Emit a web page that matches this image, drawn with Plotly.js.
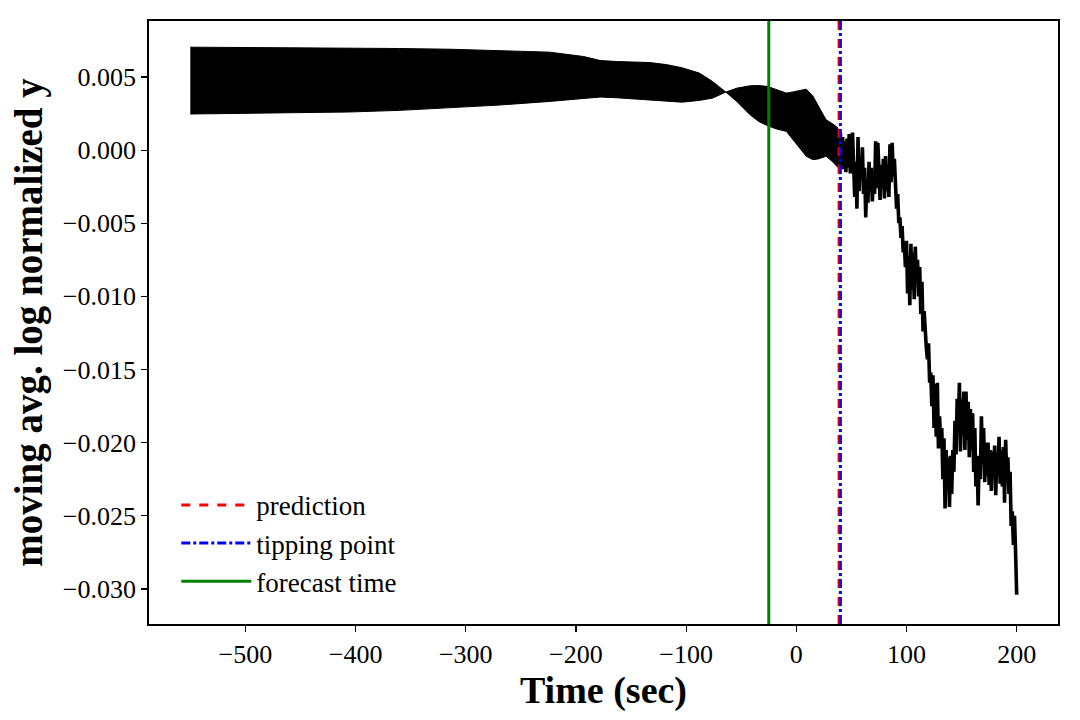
<!DOCTYPE html>
<html>
<head>
<meta charset="utf-8">
<script src="https://cdn.plot.ly/plotly-3.0.1.min.js"></script>
<style>
  html, body { margin: 0; padding: 0; background: #fff; }
  #grafico { width: 1080px; height: 720px; }
</style>
</head>
<body>
<div id="grafico"></div>
<script>
// fast-oscillating part, drawn as an envelope band (upper / lower)
const bandTime = [-550, -480, -405, -360, -314, -270, -224, -193, -178, -163, -133, -118, -104, -88, -76,
    -64, -54, -42, -34, -26, -18, -9, -3, 3, 9, 15, 20, 27, 33, 38];
const bandUpper = [0.00704, 0.00702, 0.00698, 0.00695, 0.00690, 0.00682, 0.00670, 0.00640, 0.00613, 0.00606,
    0.00599, 0.00585, 0.00564, 0.00527, 0.00469, 0.00397, 0.00424, 0.00440, 0.00442, 0.00435,
    0.00413, 0.00390, 0.00398, 0.00408, 0.00417, 0.00370, 0.00300, 0.00208, 0.00180, 0.00150];
const bandLower = [0.00247, 0.00253, 0.00261, 0.00272, 0.00288, 0.00308, 0.00333, 0.00356, 0.00363, 0.00358,
    0.00344, 0.00333, 0.00328, 0.00340, 0.00356, 0.00397, 0.00333, 0.00242, 0.00195, 0.00167,
    0.00145, 0.00128, 0.00072, 0.00017, -0.00042, -0.00065, -0.00060, -0.00042, -0.00080, -0.00120];

// noisy part after the tipping point, one value per second starting at t = 38
const noiseStart = 38;
const noiseStep = 1;
const noiseValue = [
    0.0014, -0.0010, 0.0012, -0.0012, 0.0009, -0.0013, 0.0006, -0.0015, 0.0008, -0.0012,
    0.0011, -0.0016, 0.0004, 0.0012, -0.0010, -0.0032, -0.0008, -0.0040, 0.0009, -0.0028,
    -0.0005, -0.0020, 0.0002, -0.0030, -0.0012, -0.0046, -0.0020, -0.0036, -0.0008, -0.0028,
    -0.0012, -0.0035, -0.0015, -0.0030, 0.0006, -0.0026, 0.0005, -0.0014, -0.0034, -0.0010,
    -0.0026, -0.0006, -0.0033, -0.0004, -0.0028, -0.0010, -0.0032, 0.0004, -0.0022, 0.0005,
    -0.0018, -0.0006, -0.0025, -0.0040, -0.0030, -0.0050, -0.0046, -0.0060, -0.0052, -0.0070,
    -0.0063, -0.0080, -0.0062, -0.0098, -0.0072, -0.0106, -0.0064, -0.0095, -0.0070, -0.0102,
    -0.0066, -0.0090, -0.0075, -0.0100, -0.0080, -0.0112, -0.0090, -0.0124, -0.0110, -0.0128,
    -0.0135, -0.0143, -0.0132, -0.0159, -0.0152, -0.0175, -0.0154, -0.0190, -0.0160, -0.0196,
    -0.0159, -0.0204, -0.0182, -0.0200, -0.0190, -0.0225, -0.0197, -0.0245, -0.0205, -0.0230,
    -0.0210, -0.0244, -0.0209, -0.0235, -0.0205, -0.0220, -0.0185, -0.0208, -0.0170, -0.0190,
    -0.0159, -0.0206, -0.0170, -0.0195, -0.0165, -0.0205, -0.0165, -0.0198, -0.0172, -0.0210,
    -0.0177, -0.0205, -0.0180, -0.0220, -0.0190, -0.0230, -0.0209, -0.0243, -0.0210, -0.0225,
    -0.0182, -0.0215, -0.0190, -0.0227, -0.0200, -0.0223, -0.0200, -0.0229, -0.0205, -0.0233,
    -0.0206, -0.0224, -0.0202, -0.0236, -0.0208, -0.0220, -0.0196, -0.0228, -0.0205, -0.0230,
    -0.0203, -0.0241, -0.0198, -0.0225, -0.0210, -0.0235, -0.0220, -0.0257, -0.0247, -0.0270,
    -0.0250, -0.0275, -0.0304
];

const predictionTime = 38.8;
const tippingTime = 40;
const forecastTime = -25;

const xTicks = [-500, -400, -300, -200, -100, 0, 100, 200];
const yTicks = [-0.030, -0.025, -0.020, -0.015, -0.010, -0.005, 0.000, 0.005];

const fonte = "'Liberation Serif', 'DejaVu Serif', serif";

const traces = [
    {
        x: bandTime,
        y: bandUpper,
        mode: "lines",
        line: { color: "black", width: 1 },
        showlegend: false,
        hoverinfo: "skip",
    },
    {
        x: bandTime,
        y: bandLower,
        mode: "lines",
        fill: "tonexty",
        fillcolor: "black",
        line: { color: "black", width: 1 },
        showlegend: false,
        hoverinfo: "skip",
    },
    {
        x0: noiseStart,
        dx: noiseStep,
        y: noiseValue,
        mode: "lines",
        line: { color: "black", width: 3.6 },
        showlegend: false,
    },
];

function linhaVertical(x, nome, cor, dash, rank) {
    return {
        type: "line",
        xref: "x",
        yref: "paper",
        x0: x,
        x1: x,
        y0: 0,
        y1: 1,
        line: { color: cor, width: 3, dash: dash },
        showlegend: true,
        legendrank: rank,
        name: nome,
    };
}

const layout = {
    width: 1080,
    height: 720,
    paper_bgcolor: "white",
    plot_bgcolor: "white",
    font: { family: fonte, color: "black", size: 26 },
    margin: { l: 149, r: 22, t: 21, b: 96 },
    showlegend: true,
    legend: {
        x: 0.03,
        y: 0.03,
        xanchor: "left",
        yanchor: "bottom",
        traceorder: "normal",
        itemwidth: 70,
        bgcolor: "rgba(0,0,0,0)",
        borderwidth: 0,
        font: { family: fonte, size: 27, color: "black" },
    },
    xaxis: {
        range: [-587.5, 237.5],
        tickvals: xTicks,
        ticks: "outside",
        ticklen: 6,
        tickwidth: 1.2,
        tickcolor: "black",
        showline: true,
        mirror: true,
        linecolor: "black",
        linewidth: 1.8,
        showgrid: false,
        zeroline: false,
        title: { text: "<b>Time (sec)</b>", font: { family: fonte, size: 38 }, standoff: 0 },
    },
    yaxis: {
        range: [-0.0324, 0.00883],
        tickvals: yTicks,
        tickformat: ".3f",
        ticks: "outside",
        ticklen: 6,
        tickwidth: 1.2,
        tickcolor: "black",
        showline: true,
        mirror: true,
        linecolor: "black",
        linewidth: 1.8,
        showgrid: false,
        zeroline: false,
        title: { text: "<b>moving avg. log normalized y</b>", font: { family: fonte, size: 39 }, standoff: 8 },
    },
    shapes: [
        linhaVertical(predictionTime, "prediction", "red", "dash", 1),
        linhaVertical(tippingTime, "tipping point", "blue", "dashdot", 2),
        linhaVertical(forecastTime, "forecast time", "green", "solid", 3),
    ],
};

Plotly.newPlot("grafico", traces, layout, { displayModeBar: false, staticPlot: true });
</script>
</body>
</html>
